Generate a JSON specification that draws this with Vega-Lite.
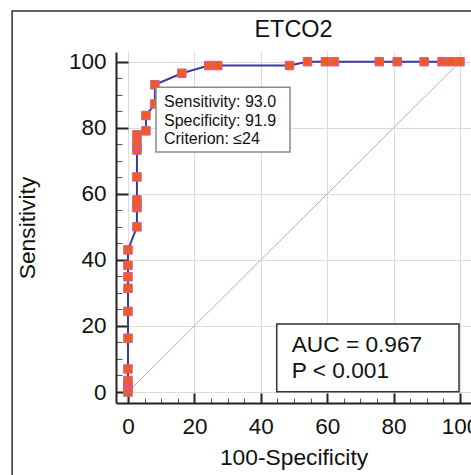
{
  "$schema": "https://vega.github.io/schema/vega-lite/v6.json",
  "width": 355,
  "height": 351,
  "autosize": {"type": "none"},
  "padding": {"left": 116, "top": 52, "right": 0, "bottom": 72},
  "background": "white",
  "config": {
    "view": {"stroke": null},
    "font": "Liberation Sans",
    "axis": {"labelFont": "Liberation Sans", "titleFont": "Liberation Sans"}
  },
  "title": {
    "text": "ETCO2",
    "fontSize": 23.4,
    "fontWeight": "normal",
    "color": "#111",
    "font": "Liberation Sans",
    "anchor": "middle",
    "frame": "group",
    "baseline": "alphabetic",
    "offset": -50.5
  },
  "datasets": {
    "roc": [
      {"fpr": 0, "sens": 0},
      {"fpr": 0, "sens": 1.16},
      {"fpr": 0, "sens": 2.33},
      {"fpr": 0, "sens": 3.49},
      {"fpr": 0, "sens": 6.98},
      {"fpr": 0, "sens": 16.28},
      {"fpr": 0, "sens": 24.42},
      {"fpr": 0, "sens": 31.4},
      {"fpr": 0, "sens": 34.88},
      {"fpr": 0, "sens": 38.37},
      {"fpr": 0, "sens": 43.02},
      {"fpr": 2.7, "sens": 50.0},
      {"fpr": 2.7, "sens": 55.81},
      {"fpr": 2.7, "sens": 56.98},
      {"fpr": 2.7, "sens": 58.14},
      {"fpr": 2.7, "sens": 65.12},
      {"fpr": 2.7, "sens": 73.26},
      {"fpr": 2.7, "sens": 74.42},
      {"fpr": 2.7, "sens": 75.58},
      {"fpr": 2.7, "sens": 77.91},
      {"fpr": 5.41, "sens": 79.07},
      {"fpr": 5.41, "sens": 83.72},
      {"fpr": 8.11, "sens": 87.21},
      {"fpr": 8.11, "sens": 93.02},
      {"fpr": 16.22, "sens": 96.51},
      {"fpr": 24.32, "sens": 98.84},
      {"fpr": 27.03, "sens": 98.84},
      {"fpr": 48.65, "sens": 98.84},
      {"fpr": 54.05, "sens": 100},
      {"fpr": 59.46, "sens": 100},
      {"fpr": 62.16, "sens": 100},
      {"fpr": 75.68, "sens": 100},
      {"fpr": 81.08, "sens": 100},
      {"fpr": 89.19, "sens": 100},
      {"fpr": 94.59, "sens": 100},
      {"fpr": 97.3, "sens": 100},
      {"fpr": 100, "sens": 100}
    ],
    "diag": [
      {"fpr": 0, "sens": 0},
      {"fpr": 100, "sens": 100}
    ]
  },
  "layer": [
    {
      "data": {"values": [{}]},
      "mark": {"type": "rect", "filled": false, "stroke": "#333", "strokeWidth": 1.5, "clip": false},
      "encoding": {
        "x": {"datum": -34.9, "type": "quantitative", "scale": {"domain": [-3.61, 103.31], "nice": false, "zero": false}, "axis": null},
        "x2": {"datum": 115},
        "y": {"datum": 115.35, "type": "quantitative", "scale": {"domain": [-3.33, 102.94], "nice": false, "zero": false}, "axis": null},
        "y2": {"datum": -30}
      }
    },
    {
      "data": {"name": "diag"},
      "mark": {"type": "line", "color": "#dca0a0", "strokeWidth": 1},
      "encoding": {
        "x": {
          "field": "fpr", "type": "quantitative",
          "scale": {"domain": [-3.61, 103.31], "nice": false, "zero": false},
          "axis": {
            "orient": "bottom",
            "values": [0,5,10,15,20,25,30,35,40,45,50,55,60,65,70,75,80,85,90,95,100],
            "grid": false, "domain": false, "labels": false, "title": null,
            "tickSize": -5, "tickWidth": 1, "tickColor": "#555"
          }
        },
        "y": {
          "field": "sens", "type": "quantitative",
          "scale": {"domain": [-3.33, 102.94], "nice": false, "zero": false},
          "axis": {
            "orient": "left",
            "values": [0,5,10,15,20,25,30,35,40,45,50,55,60,65,70,75,80,85,90,95,100],
            "grid": false, "domain": false, "labels": false, "title": null,
            "tickSize": -6, "tickWidth": 1, "tickColor": "#555"
          }
        }
      }
    },
    {
      "data": {"name": "roc"},
      "mark": {"type": "line", "color": "#3b3b9e", "strokeWidth": 2},
      "encoding": {
        "x": {
          "field": "fpr", "type": "quantitative",
          "scale": {"domain": [-3.61, 103.31], "nice": false, "zero": false},
          "axis": {
            "orient": "bottom",
            "values": [0,20,40,60,80,100],
            "grid": true, "gridColor": "#dcdcdc", "gridWidth": 1,
            "domainColor": "#222", "domainWidth": 2,
            "tickColor": "#222", "tickWidth": 2, "tickSize": -10,
            "labelPadding": 22, "labelFontSize": 22.5, "labelColor": "#111",
            "labelFlush": false, "labelOverlap": false, "labelBound": false,
            "title": "100-Specificity", "titleFontSize": 22.8, "titleFontWeight": "normal",
            "titleColor": "#111", "titlePadding": 9
          }
        },
        "y": {
          "field": "sens", "type": "quantitative",
          "scale": {"domain": [-3.33, 102.94], "nice": false, "zero": false},
          "axis": {
            "orient": "left",
            "values": [0,20,40,60,80,100],
            "grid": true, "gridColor": "#dcdcdc", "gridWidth": 1,
            "domainColor": "#222", "domainWidth": 2,
            "tickColor": "#222", "tickWidth": 2, "tickSize": -12,
            "labelPadding": 22, "labelFontSize": 22.5, "labelColor": "#111",
            "labelFlush": false, "labelOverlap": false, "labelBound": false,
            "title": "Sensitivity", "titleFontSize": 22.8, "titleFontWeight": "normal",
            "titleColor": "#111", "titlePadding": 29
          }
        },
        "order": [{"field": "fpr"}, {"field": "sens"}]
      }
    },
    {
      "data": {"name": "roc"},
      "mark": {"type": "point", "shape": "square", "filled": true, "size": 72, "fill": "#f15a24", "stroke": "#cc6090", "strokeWidth": 1, "opacity": 1},
      "encoding": {
        "x": {"field": "fpr", "type": "quantitative", "scale": {"domain": [-3.61, 103.31], "nice": false, "zero": false}, "axis": null},
        "y": {"field": "sens", "type": "quantitative", "scale": {"domain": [-3.33, 102.94], "nice": false, "zero": false}, "axis": null}
      }
    },
    {
      "data": {"values": [{}]},
      "mark": {"type": "rect", "fill": "white", "stroke": "#8a8a8a", "strokeWidth": 1.5},
      "encoding": {
        "x": {"datum": 8.43, "type": "quantitative", "scale": {"domain": [-3.61, 103.31], "nice": false, "zero": false}, "axis": null},
        "x2": {"datum": 48.8},
        "y": {"datum": 92.3, "type": "quantitative", "scale": {"domain": [-3.33, 102.94], "nice": false, "zero": false}, "axis": null},
        "y2": {"datum": 72.7}
      }
    },
    {
      "data": {"values": [{}]},
      "mark": {"type": "text", "align": "left", "baseline": "alphabetic", "fontSize": 16, "lineHeight": 18.5, "color": "#111", "font": "Liberation Sans"},
      "encoding": {
        "x": {"datum": 10.84, "type": "quantitative", "scale": {"domain": [-3.61, 103.31], "nice": false, "zero": false}, "axis": null},
        "y": {"datum": 86.2, "type": "quantitative", "scale": {"domain": [-3.33, 102.94], "nice": false, "zero": false}, "axis": null},
        "text": {"value": ["Sensitivity: 93.0", "Specificity: 91.9", "Criterion: ≤24"]}
      }
    },
    {
      "data": {"values": [{}]},
      "mark": {"type": "rect", "fill": "white", "stroke": "#333", "strokeWidth": 1.5},
      "encoding": {
        "x": {"datum": 44.8, "type": "quantitative", "scale": {"domain": [-3.61, 103.31], "nice": false, "zero": false}, "axis": null},
        "x2": {"datum": 99.7},
        "y": {"datum": 20.6, "type": "quantitative", "scale": {"domain": [-3.33, 102.94], "nice": false, "zero": false}, "axis": null},
        "y2": {"datum": 0.1}
      }
    },
    {
      "data": {"values": [{}]},
      "mark": {"type": "text", "align": "left", "baseline": "alphabetic", "fontSize": 22.7, "lineHeight": 26.6, "color": "#111", "font": "Liberation Sans"},
      "encoding": {
        "x": {"datum": 49.3, "type": "quantitative", "scale": {"domain": [-3.61, 103.31], "nice": false, "zero": false}, "axis": null},
        "y": {"datum": 12.2, "type": "quantitative", "scale": {"domain": [-3.33, 102.94], "nice": false, "zero": false}, "axis": null},
        "text": {"value": ["AUC = 0.967", "P < 0.001"]}
      }
    }
  ],
  "resolve": {"axis": {"x": "independent", "y": "independent"}}
}
